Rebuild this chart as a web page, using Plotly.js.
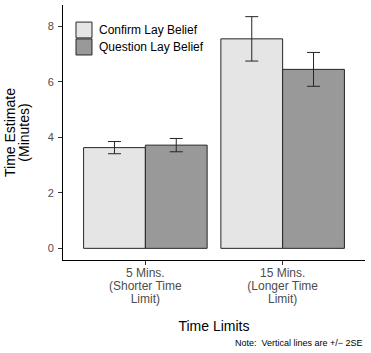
<!DOCTYPE html>
<html>
<head>
<meta charset="utf-8">
<script src="https://cdn.plot.ly/plotly-3.0.1.min.js"></script>
<style>html,body{margin:0;padding:0;background:#fff;}#chart{width:371px;height:353px;}</style>
</head>
<body>
<div id="chart"></div>
<script>
const categories = ["5 Mins.<br>(Shorter Time<br>Limit)", "15 Mins.<br>(Longer Time<br>Limit)"];
const seriesNames = ["Confirm Lay Belief", "Question Lay Belief"];
const seriesColors = ["#e5e5e5", "#999999"];
const confirmValues = [3.63, 7.55];
const confirmErr = [0.22, 0.80];
const questionValues = [3.72, 6.45];
const questionErr = [0.24, 0.61];
const yTicks = [0, 2, 4, 6, 8];
const note = "Note:  Vertical lines are +/\u2212 2SE";

const font = "Liberation Sans, Arial, sans-serif";
const outline = "#262626";
function bar(name, vals, errs, color) {
  return {
    type: "bar", name: name, x: categories, y: vals,
    marker: {color: color, line: {color: outline, width: 1}},
    error_y: {type: "data", array: errs, visible: true, color: outline, thickness: 1, width: 6.5}
  };
}
const data = [
  bar(seriesNames[0], confirmValues, confirmErr, seriesColors[0]),
  bar(seriesNames[1], questionValues, questionErr, seriesColors[1])
];

// manual legend (boxes + labels), placed in paper coordinates
const legendBoxes = [[0.933, 0.871], [0.867, 0.804]];
const legendTextY = [0.902, 0.835];
const shapes = legendBoxes.map((b, i) => ({
  type: "rect", xref: "paper", yref: "paper", x0: 0.043, x1: 0.096, y0: b[1], y1: b[0],
  fillcolor: seriesColors[i], line: {color: outline, width: 1}
}));
const annotations = seriesNames.map((n, i) => ({
  text: n, xref: "paper", yref: "paper", x: 0.113, y: legendTextY[i],
  xanchor: "left", yanchor: "middle", showarrow: false,
  font: {family: font, size: 12, color: "#000000"}
}));
annotations.push({
  text: note, xref: "paper", yref: "paper", x: 1.0, y: -0.325,
  xanchor: "right", yanchor: "middle", showarrow: false,
  font: {family: font, size: 9, color: "#000000"}
});

const layout = {
  width: 371, height: 353,
  margin: {l: 63, r: 6, t: 5, b: 93},
  paper_bgcolor: "#ffffff", plot_bgcolor: "#ffffff",
  font: {family: font, color: "#000000"},
  barmode: "group", bargap: 0.1, bargroupgap: 0,
  showlegend: false,
  xaxis: {
    type: "category", range: [-0.6, 1.6],
    showline: true, linecolor: "#000000", linewidth: 1,
    ticks: "outside", ticklen: 4, tickcolor: "#333333",
    ticklabelstandoff: -2,
    tickfont: {family: font, size: 12, color: "#4d4d4d"},
    showgrid: false, zeroline: false,
    title: {text: "Time Limits", font: {family: font, size: 14, color: "#000000"}, standoff: 10}
  },
  yaxis: {
    range: [-0.42, 8.77], tickvals: yTicks, ticktext: yTicks.map(String),
    showline: true, linecolor: "#000000", linewidth: 1,
    ticks: "outside", ticklen: 4, tickcolor: "#333333",
    ticklabelstandoff: 2,
    tickfont: {family: font, size: 11, color: "#4d4d4d"},
    showgrid: false, zeroline: false,
    title: {text: "Time Estimate<br>(Minutes)", font: {family: font, size: 14, color: "#000000"}, standoff: 10}
  },
  shapes: shapes,
  annotations: annotations
};
const gd = document.getElementById("chart");
function tighten(sel, factor) {
  gd.querySelectorAll(sel).forEach(t => {
    const dy = t.getAttribute("dy");
    if (dy && dy.endsWith("em")) {
      const n = parseFloat(dy) / 1.3;
      t.setAttribute("dy", (n * factor) + "em");
    }
  });
}
Plotly.newPlot(gd, data, layout, {displayModeBar: false, staticPlot: true}).then(() => {
  tighten(".xtick text tspan.line", 1.07);
  tighten(".ytitle tspan.line", 1.0);
});
</script>
</body>
</html>
